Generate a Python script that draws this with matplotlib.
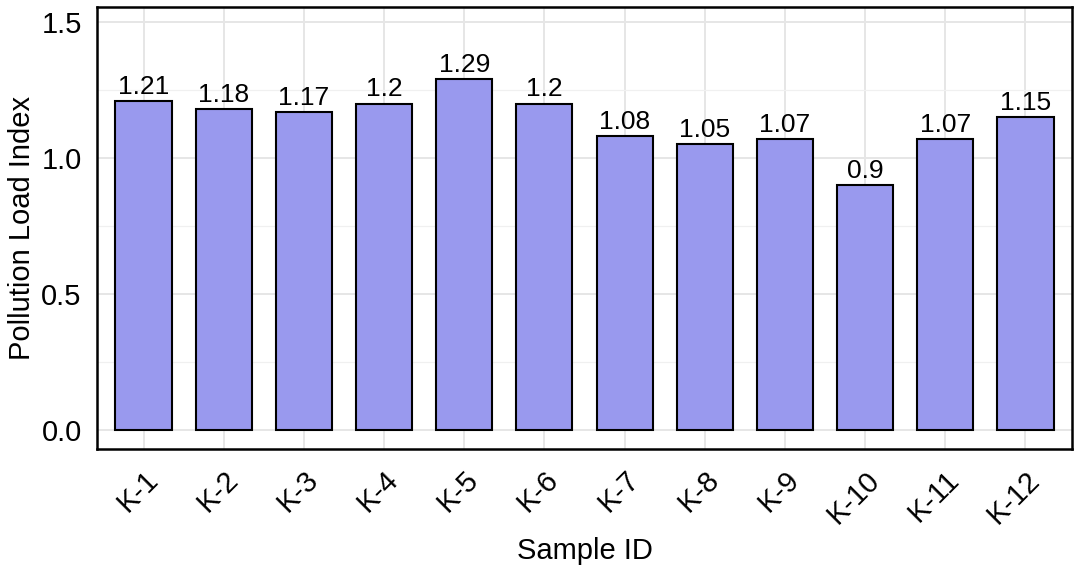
import matplotlib
matplotlib.use("Agg")
import matplotlib.pyplot as plt
from matplotlib.ticker import MultipleLocator

samples = ["K-1", "K-2", "K-3", "K-4", "K-5", "K-6", "K-7", "K-8", "K-9", "K-10", "K-11", "K-12"]
pli = [1.21, 1.18, 1.17, 1.2, 1.29, 1.2, 1.08, 1.05, 1.07, 0.9, 1.07, 1.15]
value_labels = ["1.21", "1.18", "1.17", "1.2", "1.29", "1.2", "1.08", "1.05", "1.07", "0.9", "1.07", "1.15"]

plt.rcParams['font.family'] = ['Liberation Sans', 'DejaVu Sans']

fig = plt.figure(figsize=(10.77, 5.67), dpi=100)
ax = fig.add_axes([97 / 1077, 1 - 449 / 567, (1072 - 97) / 1077, (449 - 7) / 567])

x = list(range(len(samples)))
ax.bar(x, pli, width=0.7, color='#9999ee', edgecolor='black', linewidth=1.5, zorder=3)

for xi, v, lab in zip(x, pli, value_labels):
    ax.text(xi, v + 0.008, lab, ha='center', va='bottom', fontsize=19, zorder=4)

ax.set_xlim(-0.58, len(samples) - 0.42)
ax.set_ylim(-0.07, 1.555)
ax.yaxis.set_minor_locator(MultipleLocator(0.25))
ax.set_yticks([0, 0.5, 1.0, 1.5])
ax.set_yticklabels(["0.0", "0.5", "1.0", "1.5"], fontsize=21)
ax.set_xticks(x)
ax.set_xticklabels(samples, rotation=45, ha='right', va='top', rotation_mode='anchor', fontsize=21)

ax.grid(True, which='major', color='#e6e6e6', linewidth=1.4, zorder=0)
ax.grid(True, which='minor', axis='y', color='#f0f0f0', linewidth=0.9, zorder=0)
ax.tick_params(axis='x', which='major', length=0, pad=12)
ax.tick_params(axis='y', which='major', length=0, pad=11)
ax.tick_params(axis='y', which='minor', length=0)

for s in ax.spines.values():
    s.set_linewidth(1.8)
    s.set_color('black')

ax.set_xlabel("Sample ID", fontsize=21, labelpad=6)
ax.set_ylabel("Pollution Load Index", fontsize=21, labelpad=4)

fig.savefig("out.png", dpi=100)
